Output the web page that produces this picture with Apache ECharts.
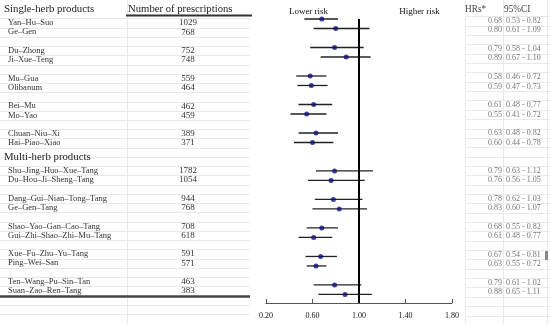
<!DOCTYPE html>
<html><head><meta charset="utf-8">
<script src="https://cdn.jsdelivr.net/npm/echarts@6/dist/echarts.min.js"></script>
<style>html,body{margin:0;padding:0;background:#fff}#c{width:550px;height:324px}</style>
</head><body><div id="c"></div>
<script>
const singleNames = ['Yan–Hu–Suo','Ge–Gen','Du–Zhong','Ji–Xue–Teng','Mu–Gua','Olibanum','Bei–Mu','Mo–Yao','Chuan–Niu–Xi','Hai–Piao–Xiao'];
const singleCounts = [1029,768,752,748,559,464,462,459,389,371];
const singleHR = [0.68,0.80,0.79,0.89,0.58,0.59,0.61,0.55,0.63,0.60];
const singleLo = [0.53,0.61,0.58,0.67,0.46,0.47,0.48,0.41,0.48,0.44];
const singleHi = [0.82,1.09,1.04,1.10,0.72,0.73,0.77,0.72,0.82,0.78];

const multiNames = ['Shu–Jing–Huo–Xue–Tang','Du–Hou–Ji–Sheng–Tang','Dang–Gui–Nian–Tong–Tang','Ge–Gen–Tang','Shao–Yao–Gan–Cao–Tang','Gui–Zhi–Shao–Zhi–Mu–Tang','Xue–Fu–Zhu–Yu–Tang','Ping–Wei–San','Ten–Wang–Pu–Sin–Tan','Suan–Zao–Ren–Tang'];
const multiCounts = [1782,1054,944,768,708,618,591,571,463,383];
const multiHR = [0.79,0.76,0.78,0.83,0.68,0.61,0.67,0.63,0.79,0.88];
const multiLo = [0.63,0.56,0.62,0.60,0.55,0.48,0.54,0.55,0.61,0.65];
const multiHi = [1.12,1.05,1.03,1.07,0.82,0.77,0.81,0.72,1.02,1.11];

const tickLabels = ['0.20','0.60','1.00','1.40','1.80'];
const tickValues = [0.2,0.6,1.0,1.4,1.8];
const refValue = 1.0;

const SERIF = "'Liberation Serif','Times New Roman',serif";
function rowOf(i){ return Math.floor(i/2)*3 + i%2; }
const MULTI_START = 16;

const rows = [];
singleNames.forEach((n,i)=>rows.push({name:n,count:singleCounts[i],hr:singleHR[i],lo:singleLo[i],hi:singleHi[i],row:rowOf(i)}));
multiNames.forEach((n,i)=>rows.push({name:n,count:multiCounts[i],hr:multiHR[i],lo:multiLo[i],hi:multiHi[i],row:MULTI_START+rowOf(i)}));

const chart = echarts.init(document.getElementById('c'), null, {renderer:'canvas'});
chart.setOption({
  animation:false,
  grid:{left:266,right:98,top:19,bottom:21},
  xAxis:{type:'value',min:0.2,max:1.8,interval:0.4,
    axisLine:{onZero:false,lineStyle:{color:'#555',width:1}},
    axisTick:{inside:true,length:4,lineStyle:{color:'#555'}},
    axisLabel:{formatter:v=>{const k=tickValues.findIndex(t=>Math.abs(t-v)<1e-6);return k>=0?tickLabels[k]:'';},fontFamily:SERIF,fontSize:8,color:'#111',margin:9},
    splitLine:{show:false}},
  yAxis:{type:'value',min:0,max:29.9,inverse:true,show:false},
  series:[
    {type:'custom',clip:false,z:2,
     renderItem:(params,api)=>{
       const a=api.coord([api.value(0),api.value(2)]);
       const b=api.coord([api.value(1),api.value(2)]);
       return {type:'line',shape:{x1:a[0],y1:a[1],x2:b[0],y2:b[1]},style:{stroke:'#222',lineWidth:1.3}};
     },
     encode:{x:[0,1],y:2},
     data:rows.map(r=>[r.lo,r.hi,r.row]),
     markLine:{silent:true,symbol:'none',label:{show:false},lineStyle:{color:'#000',width:2,type:'solid'},data:[{xAxis:refValue}]}
    },
    {type:'scatter',clip:false,z:3,symbol:'circle',symbolSize:5,itemStyle:{color:'#10107a'},
     data:rows.map(r=>[r.hr,r.row])}
  ]
});

const py = r => chart.convertToPixel({yAxisIndex:0}, r);
const p0 = py(0), pStep = (py(29)-p0)/29;
// the side tables are slightly more compact than the plot rows
const leftY = r => 23 + (py(r)-p0)/pStep*9.24;
const rightY = r => 21 + (py(r)-p0)/pStep*9.35;
const g = [];
const grid = '#e9e9e9';
for(let k=-1;k<=31;k++){
  const yl = Math.round(leftY(k+0.5))+0.5;
  const yr = Math.round(rightY(k+0.5))+0.5;
  g.push({type:'line',shape:{x1:0,y1:yl,x2:250,y2:yl},style:{stroke:grid,lineWidth:1},silent:true,z:0});
  g.push({type:'line',shape:{x1:465,y1:yr,x2:550,y2:yr},style:{stroke:grid,lineWidth:1},silent:true,z:0});
}
[127.5,465.5,503.5,547.5].forEach(x=>g.push({type:'line',shape:{x1:x,y1:0,x2:x,y2:324},style:{stroke:grid,lineWidth:1},silent:true,z:0}));
const txt = (text,x,y,size,fill,align)=>g.push({type:'text',x:x,y:y,z:10,silent:true,style:{text:text,fontFamily:SERIF,fontSize:size,fill:fill,align:align||'left',verticalAlign:'middle'}});
txt('Single-herb products',4,9,10.8,'#222');
txt('Number of prescriptions',128,9,10.7,'#222');
g.push({type:'line',shape:{x1:126,y1:15.5,x2:252,y2:15.5},style:{stroke:'#333',lineWidth:2},z:10,silent:true});
txt('Multi-herb products',4,157.5,10.8,'#222');
txt('Lower risk',308.5,12,9,'#111','center');
txt('Higher risk',419.5,12,9,'#111','center');
txt('HRs*',465,10,9.3,'#444');
txt('95%CI',504,10,9.3,'#444');
rows.forEach(r=>{
  const yl = leftY(r.row), yr = rightY(r.row);
  txt(r.name,8,yl,8.5,'#333');
  txt(String(r.count),188,yl,9,'#333','center');
  txt(r.hr.toFixed(2),502,yr,8,'#777','right');
  txt(r.lo.toFixed(2)+' - '+r.hi.toFixed(2),506,yr,8,'#777');
});
g.push({type:'line',shape:{x1:0,y1:296.5,x2:250,y2:296.5},style:{stroke:'#444',lineWidth:2.5},z:10,silent:true});
g.push({type:'rect',shape:{x:545,y:251,width:3,height:9},style:{fill:'#888'},z:10,silent:true});
chart.setOption({graphic:g});
</script></body></html>
